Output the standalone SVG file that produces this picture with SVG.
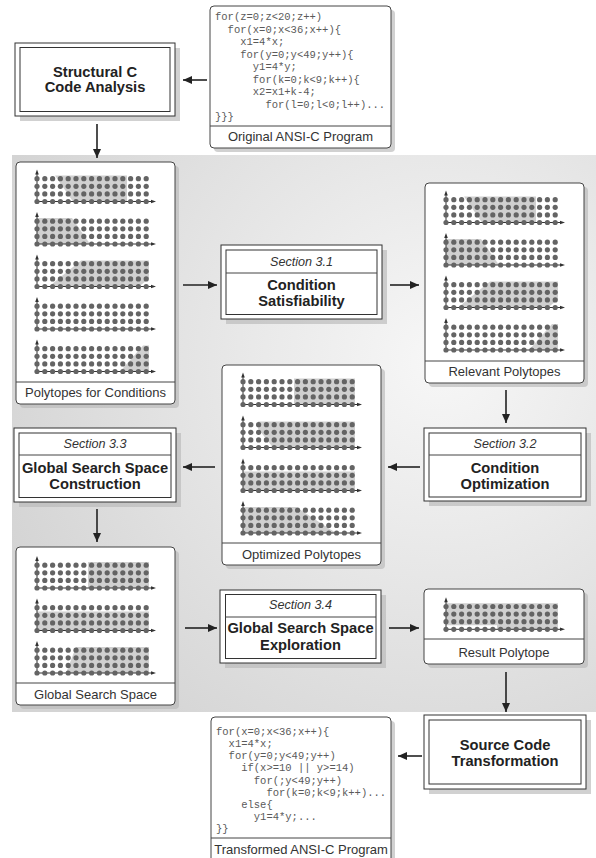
<svg xmlns="http://www.w3.org/2000/svg" width="596" height="858" viewBox="0 0 596 858">
<defs>
<radialGradient id="panelGrad" cx="440" cy="360" r="470" gradientUnits="userSpaceOnUse">
<stop offset="0" stop-color="#f7f7f7"/>
<stop offset="1" stop-color="#d4d4d4"/>
</radialGradient>
<marker id="arr" markerWidth="9" markerHeight="8" refX="9" refY="4" orient="auto" markerUnits="userSpaceOnUse"><path d="M0,0 L9,4 L0,8 z" fill="#222"/></marker>
<g id="grid">
<line x1="0" y1="0" x2="116" y2="0" class="ax"/>
<line x1="0" y1="0" x2="0" y2="-29" class="ax"/>
<path d="M119,0 L114,-1.8 L114,1.8 z M0,-32 L-1.8,-27 L1.8,-27 z" fill="#333"/>
<g fill="#646464">
<circle cx="0" cy="0" r="2.6"/><circle cx="7.8" cy="0" r="2.6"/><circle cx="15.6" cy="0" r="2.6"/><circle cx="23.4" cy="0" r="2.6"/><circle cx="31.2" cy="0" r="2.6"/><circle cx="39" cy="0" r="2.6"/><circle cx="46.8" cy="0" r="2.6"/><circle cx="54.6" cy="0" r="2.6"/><circle cx="62.4" cy="0" r="2.6"/><circle cx="70.2" cy="0" r="2.6"/><circle cx="78" cy="0" r="2.6"/><circle cx="85.8" cy="0" r="2.6"/><circle cx="93.6" cy="0" r="2.6"/><circle cx="101.4" cy="0" r="2.6"/><circle cx="109.2" cy="0" r="2.6"/>
<circle cx="0" cy="-7.6" r="2.6"/><circle cx="7.8" cy="-7.6" r="2.6"/><circle cx="15.6" cy="-7.6" r="2.6"/><circle cx="23.4" cy="-7.6" r="2.6"/><circle cx="31.2" cy="-7.6" r="2.6"/><circle cx="39" cy="-7.6" r="2.6"/><circle cx="46.8" cy="-7.6" r="2.6"/><circle cx="54.6" cy="-7.6" r="2.6"/><circle cx="62.4" cy="-7.6" r="2.6"/><circle cx="70.2" cy="-7.6" r="2.6"/><circle cx="78" cy="-7.6" r="2.6"/><circle cx="85.8" cy="-7.6" r="2.6"/><circle cx="93.6" cy="-7.6" r="2.6"/><circle cx="101.4" cy="-7.6" r="2.6"/><circle cx="109.2" cy="-7.6" r="2.6"/>
<circle cx="0" cy="-15.2" r="2.6"/><circle cx="7.8" cy="-15.2" r="2.6"/><circle cx="15.6" cy="-15.2" r="2.6"/><circle cx="23.4" cy="-15.2" r="2.6"/><circle cx="31.2" cy="-15.2" r="2.6"/><circle cx="39" cy="-15.2" r="2.6"/><circle cx="46.8" cy="-15.2" r="2.6"/><circle cx="54.6" cy="-15.2" r="2.6"/><circle cx="62.4" cy="-15.2" r="2.6"/><circle cx="70.2" cy="-15.2" r="2.6"/><circle cx="78" cy="-15.2" r="2.6"/><circle cx="85.8" cy="-15.2" r="2.6"/><circle cx="93.6" cy="-15.2" r="2.6"/><circle cx="101.4" cy="-15.2" r="2.6"/><circle cx="109.2" cy="-15.2" r="2.6"/>
<circle cx="0" cy="-22.8" r="2.6"/><circle cx="7.8" cy="-22.8" r="2.6"/><circle cx="15.6" cy="-22.8" r="2.6"/><circle cx="23.4" cy="-22.8" r="2.6"/><circle cx="31.2" cy="-22.8" r="2.6"/><circle cx="39" cy="-22.8" r="2.6"/><circle cx="46.8" cy="-22.8" r="2.6"/><circle cx="54.6" cy="-22.8" r="2.6"/><circle cx="62.4" cy="-22.8" r="2.6"/><circle cx="70.2" cy="-22.8" r="2.6"/><circle cx="78" cy="-22.8" r="2.6"/><circle cx="85.8" cy="-22.8" r="2.6"/><circle cx="93.6" cy="-22.8" r="2.6"/><circle cx="101.4" cy="-22.8" r="2.6"/><circle cx="109.2" cy="-22.8" r="2.6"/>
</g>
</g>
</defs>
<style>
.ax{stroke:#333;stroke-width:1}
.shadow{fill:#b8b8b8;opacity:0.65}
.box{fill:#fff;stroke:#333;stroke-width:1}
.rbox{fill:#fff;stroke:#444;stroke-width:1}
.div{stroke:#444;stroke-width:1}
.shade{fill:#d0d0d0}
.title{font-family:"Liberation Sans",Arial,sans-serif;font-size:14.7px;font-weight:bold;fill:#222;text-anchor:middle}
.sec{font-family:"Liberation Sans",Arial,sans-serif;font-size:12.6px;font-style:italic;fill:#333;text-anchor:middle}
.lbl{font-family:"Liberation Sans",Arial,sans-serif;font-size:13px;fill:#333;text-anchor:middle}
.code{font-family:"Liberation Mono","Courier New",monospace;font-size:10.5px;fill:#5a5a5a}
.conn{stroke:#222;stroke-width:1.6;fill:none}
</style>

<rect id="panel" x="12" y="155" width="584" height="557" fill="url(#panelGrad)"/>

<g id="orig-code">
<rect class="shadow" x="214" y="10" width="181" height="142" rx="4"/>
<rect class="rbox" x="210" y="6" width="181" height="142" rx="4"/>
<line class="div" x1="210" y1="126" x2="391" y2="126"/>
<text class="code" x="215" y="20">for(z=0;z&lt;20;z++)</text>
<text class="code" x="227.6" y="32.5">for(x=0;x&lt;36;x++){</text>
<text class="code" x="240.2" y="45">x1=4*x;</text>
<text class="code" x="240.2" y="57.5">for(y=0;y&lt;49;y++){</text>
<text class="code" x="252.8" y="70">y1=4*y;</text>
<text class="code" x="252.8" y="82.5">for(k=0;k&lt;9;k++){</text>
<text class="code" x="252.8" y="95">x2=x1+k-4;</text>
<text class="code" x="265.4" y="107.5">for(l=0;l&lt;0;l++)...</text>
<text class="code" x="215" y="120">}}}</text>
<text class="lbl" x="300.5" y="141">Original ANSI-C Program</text>
</g>

<g id="structural">
<rect class="shadow" x="20" y="48" width="160" height="73"/>
<rect class="box" x="15" y="43" width="160" height="73"/>
<rect class="box" x="20" y="47.5" width="150" height="64"/>
<text class="title" x="95" y="77">Structural C</text>
<text class="title" x="95" y="92">Code Analysis</text>
</g>

<g id="cond-polytopes">
<rect class="shadow" x="20" y="166" width="159" height="242" rx="4"/>
<rect class="rbox" x="16" y="162" width="159" height="242" rx="4"/>
<g transform="translate(37,201.5)"><polygon class="shade" points="18,-26 90,-26 90,0 36,0"/><use href="#grid"/></g>
<g transform="translate(37,244)"><polygon class="shade" points="0,-26 35,-26 53,0 0,0"/><use href="#grid"/></g>
<g transform="translate(37,286.5)"><polygon class="shade" points="12,0 44,-26 112,-26 112,-8 102,0"/><use href="#grid"/></g>
<g transform="translate(37,329)"><use href="#grid"/></g>
<g transform="translate(37,371.5)"><polygon class="shade" points="83,0 106,-26 112,-26 112,0"/><use href="#grid"/></g>
<line class="div" x1="16" y1="382" x2="175" y2="382"/>
<text class="lbl" x="95.5" y="397">Polytopes for Conditions</text>
</g>

<g id="sec31">
<rect class="shadow" x="226" y="250" width="161" height="74"/>
<rect class="box" x="221" y="245" width="161" height="74"/>
<rect class="box" x="226" y="250" width="151" height="64.5"/>
<line class="div" x1="226" y1="273" x2="377" y2="273"/>
<text class="sec" x="301.5" y="266">Section 3.1</text>
<text class="title" x="301.5" y="290">Condition</text>
<text class="title" x="301.5" y="306">Satisfiability</text>
</g>

<g id="relevant">
<rect class="shadow" x="429" y="187" width="159" height="200" rx="4"/>
<rect class="rbox" x="425" y="183" width="159" height="200" rx="4"/>
<g transform="translate(446,222.5)"><polygon class="shade" points="18,-26 90,-26 90,0 36,0"/><use href="#grid"/></g>
<g transform="translate(446,265)"><polygon class="shade" points="0,-26 35,-26 53,0 0,0"/><use href="#grid"/></g>
<g transform="translate(446,307.5)"><polygon class="shade" points="12,0 44,-26 112,-26 112,-8 102,0"/><use href="#grid"/></g>
<g transform="translate(446,350)"><polygon class="shade" points="83,0 106,-26 112,-26 112,0"/><use href="#grid"/></g>
<line class="div" x1="425" y1="361" x2="584" y2="361"/>
<text class="lbl" x="504.5" y="376">Relevant Polytopes</text>
</g>

<g id="sec32">
<rect class="shadow" x="429" y="433" width="162" height="73"/>
<rect class="box" x="424" y="428" width="162" height="73"/>
<rect class="box" x="429" y="433" width="152" height="64"/>
<line class="div" x1="429" y1="455" x2="581" y2="455"/>
<text class="sec" x="505" y="448">Section 3.2</text>
<text class="title" x="505" y="473">Condition</text>
<text class="title" x="505" y="489">Optimization</text>
</g>

<g id="optimized">
<rect class="shadow" x="226" y="369" width="159" height="200" rx="4"/>
<rect class="rbox" x="222" y="365" width="159" height="200" rx="4"/>
<g transform="translate(243,404.5)"><polygon class="shade" points="51,-26 112,-26 112,0 51,0"/><use href="#grid"/></g>
<g transform="translate(243,447.5)"><polygon class="shade" points="15,-26 112,-26 112,0 30,0 15,-19"/><use href="#grid"/></g>
<g transform="translate(243,490.5)"><polygon class="shade" points="0,-19 112,-19 112,0 0,0"/><use href="#grid"/></g>
<g transform="translate(243,533)"><polygon class="shade" points="0,-26 53,-26 93,0 0,0"/><use href="#grid"/></g>
<line class="div" x1="222" y1="543" x2="381" y2="543"/>
<text class="lbl" x="301.5" y="559">Optimized Polytopes</text>
</g>

<g id="sec33">
<rect class="shadow" x="19" y="433" width="162" height="74"/>
<rect class="box" x="14" y="428" width="162" height="74"/>
<rect class="box" x="19" y="433" width="152" height="64.5"/>
<line class="div" x1="19" y1="455" x2="171" y2="455"/>
<text class="sec" x="95" y="448">Section 3.3</text>
<text class="title" x="95" y="473">Global Search Space</text>
<text class="title" x="95" y="489">Construction</text>
</g>

<g id="gss">
<rect class="shadow" x="20" y="551" width="159" height="158" rx="4"/>
<rect class="rbox" x="16" y="547" width="159" height="158" rx="4"/>
<g transform="translate(37,588)"><polygon class="shade" points="51,-26 112,-26 112,0 51,0"/><use href="#grid"/></g>
<g transform="translate(37,630.5)"><polygon class="shade" points="0,-19 112,-19 112,0 0,0"/><use href="#grid"/></g>
<g transform="translate(37,673)"><polygon class="shade" points="39,-26 112,-26 112,0 29,0"/><use href="#grid"/></g>
<line class="div" x1="16" y1="683" x2="175" y2="683"/>
<text class="lbl" x="95.5" y="699">Global Search Space</text>
</g>

<g id="sec34">
<rect class="shadow" x="225" y="595" width="161" height="73"/>
<rect class="box" x="220" y="590" width="161" height="73"/>
<rect class="box" x="225.5" y="594.5" width="150.5" height="64"/>
<line class="div" x1="225.5" y1="617" x2="376" y2="617"/>
<text class="sec" x="300.5" y="609">Section 3.4</text>
<text class="title" x="300.5" y="633">Global Search Space</text>
<text class="title" x="300.5" y="650">Exploration</text>
</g>

<g id="result">
<rect class="shadow" x="428" y="593" width="160" height="75" rx="4"/>
<rect class="rbox" x="424" y="589" width="160" height="75" rx="4"/>
<g transform="translate(446,629.3)"><polygon class="shade" points="0,-26 112,-26 112,0 51,0 51,-4 0,-4"/><use href="#grid"/></g>
<line class="div" x1="424" y1="639" x2="584" y2="639"/>
<text class="lbl" x="504" y="657">Result Polytope</text>
</g>

<g id="source-transform">
<rect class="shadow" x="429" y="720" width="162" height="74"/>
<rect class="box" x="424" y="715" width="162" height="74"/>
<rect class="box" x="429" y="720" width="152" height="64"/>
<text class="title" x="505" y="750">Source Code</text>
<text class="title" x="505" y="766">Transformation</text>
</g>

<g id="trans-code">
<rect class="shadow" x="215" y="721" width="180" height="150" rx="4"/>
<rect class="rbox" x="211" y="717" width="180" height="150" rx="4"/>
<text class="code" x="216" y="735">for(x=0;x&lt;36;x++){</text>
<text class="code" x="228.6" y="747">x1=4*x;</text>
<text class="code" x="228.6" y="759">for(y=0;y&lt;49;y++)</text>
<text class="code" x="241.2" y="771">if(x&gt;=10 || y&gt;=14)</text>
<text class="code" x="253.8" y="783.5">for(;y&lt;49;y++)</text>
<text class="code" x="266.4" y="795.5">for(k=0;k&lt;9;k++)...</text>
<text class="code" x="241.2" y="808">else{</text>
<text class="code" x="253.8" y="820">y1=4*y;...</text>
<text class="code" x="216" y="832">}}</text>
<line class="div" x1="211" y1="838" x2="391" y2="838"/>
<text class="lbl" x="301" y="854">Transformed ANSI-C Program</text>
</g>

<g id="connectors">
<line class="conn" x1="207" y1="80" x2="183" y2="80" marker-end="url(#arr)"/>
<line class="conn" x1="97" y1="124" x2="97" y2="158" marker-end="url(#arr)"/>
<line class="conn" x1="183" y1="285" x2="217" y2="285" marker-end="url(#arr)"/>
<line class="conn" x1="390" y1="285" x2="419" y2="285" marker-end="url(#arr)"/>
<line class="conn" x1="506" y1="390" x2="506" y2="423" marker-end="url(#arr)"/>
<line class="conn" x1="420" y1="467" x2="388" y2="467" marker-end="url(#arr)"/>
<line class="conn" x1="215" y1="467" x2="183" y2="467" marker-end="url(#arr)"/>
<line class="conn" x1="97" y1="509" x2="97" y2="542" marker-end="url(#arr)"/>
<line class="conn" x1="185" y1="628" x2="217" y2="628" marker-end="url(#arr)"/>
<line class="conn" x1="389" y1="628" x2="419" y2="628" marker-end="url(#arr)"/>
<line class="conn" x1="506" y1="672" x2="506" y2="712" marker-end="url(#arr)"/>
<line class="conn" x1="422" y1="756" x2="398" y2="756" marker-end="url(#arr)"/>
</g>
</svg>
